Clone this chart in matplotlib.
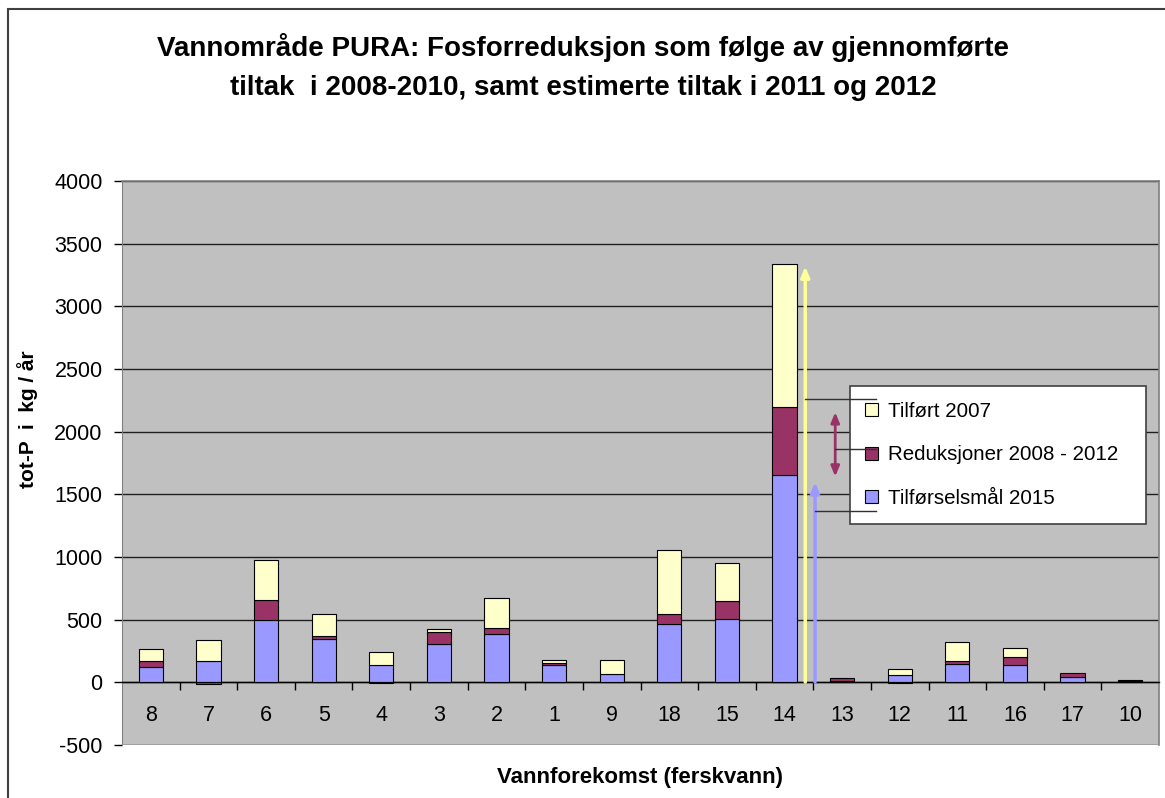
import matplotlib
matplotlib.use("Agg")
import matplotlib.pyplot as plt
from matplotlib.patches import Rectangle, Patch
import numpy as np

categories = ['8', '7', '6', '5', '4', '3', '2', '1', '9', '18', '15', '14', '13', '12', '11', '16', '17', '10']
tilforselsmal_2015 = [125, 170, 495, 348, 141, 305, 388, 141, 69, 462, 507, 1655, 12, 62, 146, 138, 40, 14]
reduksjoner_2008_2012 = [42, -15, 165, 24, -8, 99, 45, 10, 0, 85, 138, 542, 25, -8, 27, 61, 34, 5]
tilfort_2007 = [100, 170, 315, 175, 103, 24, 242, 27, 109, 510, 308, 1144, 0, 42, 151, 77, 0, 0]
series_names = ['Tilførselsmål 2015', 'Reduksjoner 2008 - 2012', 'Tilført 2007']
yticks = list(range(-500, 4001, 500))

title_lines = ["Vannområde PURA: Fosforreduksjon som følge av gjennomførte",
               "tiltak  i 2008-2010, samt estimerte tiltak i 2011 og 2012"]

plt.rcParams['font.family'] = ['Liberation Sans', 'DejaVu Sans']

W, H = 1165, 798
fig = plt.figure(figsize=(W / 100, H / 100), dpi=100)
fig.patch.set_facecolor('white')

# outer chart frame
fig.add_artist(Rectangle((8 / W, -0.1), 1.2, 1 - 9 / H + 0.1, transform=fig.transFigure,
                         fill=False, edgecolor='#404040', linewidth=1.5))

ax = fig.add_axes([122 / W, 1 - 745 / H, (1159 - 122) / W, (745 - 181) / H])
ax.set_facecolor('#C0C0C0')

x = np.arange(len(categories))
colors = ['#9999FF', '#993366', '#FFFFCC']
pos_base = np.zeros(len(categories))
neg_base = np.zeros(len(categories))
handles = []
for vals, col, name in zip([tilforselsmal_2015, reduksjoner_2008_2012, tilfort_2007], colors, series_names):
    v = np.array(vals, dtype=float)
    bottom = np.where(v >= 0, pos_base, neg_base)
    mask = v != 0
    ax.bar(x[mask], v[mask], bottom=bottom[mask], width=0.42, color=col,
           edgecolor='black', linewidth=0.8, zorder=3)
    pos_base = pos_base + np.where(v > 0, v, 0)
    neg_base = neg_base + np.where(v < 0, v, 0)
    handles.append(Patch(facecolor=col, edgecolor='black', linewidth=0.8, label=name))

ax.set_xlim(-0.5, len(categories) - 0.5)
ax.set_ylim(-500, 4000)

ax.spines['bottom'].set_position(('data', 0))
ax.spines['bottom'].set_color('black')
ax.spines['bottom'].set_linewidth(1.0)
for s in ['top', 'right']:
    ax.spines[s].set_color('#808080')
    ax.spines[s].set_linewidth(1.2)
ax.spines['left'].set_color('#808080')

ax.set_yticks(yticks)
ax.set_yticklabels([str(t) for t in yticks])
ax.yaxis.grid(True, color='#202020', linewidth=1.0, zorder=1)
ax.set_axisbelow(True)
ax.tick_params(axis='y', direction='out', length=6, width=1, pad=8, colors='black', labelsize=15.5)

ax.set_xticks(x)
ax.set_xticklabels(categories)
ax.set_xticks(np.arange(0.5, len(categories) - 0.5, 1), minor=True)
ax.tick_params(axis='x', which='major', length=0, pad=16, labelsize=15.5)
ax.tick_params(axis='x', which='minor', direction='out', length=6, width=1)

fig.text(28 / W, 1 - 419 / H, 'tot-P  i  kg / år', rotation=90, fontsize=15,
         fontweight='bold', ha='center', va='center')
fig.text(640 / W, 1 - 778 / H, 'Vannforekomst (ferskvann)', fontsize=16,
         fontweight='bold', ha='center', va='center')
for line, yc in zip(title_lines, [48, 88]):
    fig.text(583 / W, 1 - yc / H, line, fontsize=20, fontweight='bold',
             ha='center', va='center')

# arrows at category 14
i14 = categories.index('14')
top14 = tilforselsmal_2015[i14] + reduksjoner_2008_2012[i14] + tilfort_2007[i14]
base14 = tilforselsmal_2015[i14]
xy_ = i14 + 0.36
xb_ = i14 + 0.53
xm_ = i14 + 0.88
ax.annotate('', xy=(xy_, top14), xytext=(xy_, -20),
            arrowprops=dict(arrowstyle='-|>,head_length=0.6,head_width=0.25', color='#FFFF99', lw=2.5), zorder=4)
ax.annotate('', xy=(xb_, base14 - 35), xytext=(xb_, -20),
            arrowprops=dict(arrowstyle='-|>,head_length=0.6,head_width=0.25', color='#9999FF', lw=2.5), zorder=4)
ax.annotate('', xy=(xm_, base14 + reduksjoner_2008_2012[i14] - 20), xytext=(xm_, base14 - 35),
            arrowprops=dict(arrowstyle='<|-|>,head_length=0.6,head_width=0.25', color='#993366', lw=2.0), zorder=4)
xend = i14 + 1.59
ax.plot([xy_, xend], [2257, 2257], color='#303030', lw=1, zorder=7)
ax.plot([xm_, xend], [1862, 1862], color='#303030', lw=1, zorder=7)
ax.plot([xb_, xend], [1365, 1365], color='#303030', lw=1, zorder=7)

leg = ax.legend(handles=handles[::-1], loc='center',
                bbox_to_anchor=(850 / W, 1 - 523 / H, (1146 - 850) / W, (523 - 387) / H),
                bbox_transform=fig.transFigure, mode='expand', fontsize=14.8, frameon=True,
                fancybox=False, edgecolor='#404040', framealpha=1, handlelength=0.6,
                handleheight=0.6, handletextpad=0.5, labelspacing=1.2, borderpad=0.75,
                borderaxespad=0)
leg.get_frame().set_linewidth(1.2)
leg.set_zorder(5)

fig.savefig('out.png', dpi=100)
